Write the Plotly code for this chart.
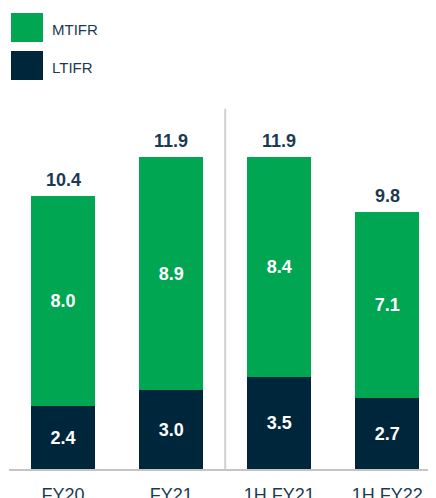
import plotly.graph_objects as go

categories = ["FY20", "FY21", "1H FY21", "1H FY22"]
ltifr = [2.4, 3.0, 3.5, 2.7]
mtifr = [8.0, 8.9, 8.4, 7.1]
totals = [10.4, 11.9, 11.9, 9.8]
series_names = ["MTIFR", "LTIFR"]

GREEN = "#00A651"
NAVY = "#00263C"
TEXT = "#1B3A52"
FONT = "Liberation Sans, Arial, sans-serif"

fig = go.Figure()
fig.add_trace(go.Bar(
    x=categories, y=ltifr, name=series_names[1], marker_color=NAVY,
    marker_line_width=0,
    text=[f"{v:.1f}" for v in ltifr], textposition="inside",
    insidetextanchor="middle",
    textfont=dict(family=FONT, size=18, color="white", weight="bold"),
))
fig.add_trace(go.Bar(
    x=categories, y=mtifr, name=series_names[0], marker_color=GREEN,
    marker_line_width=0,
    text=[f"{v:.1f}" for v in mtifr], textposition="inside",
    insidetextanchor="middle",
    textfont=dict(family=FONT, size=18, color="white", weight="bold"),
))

for c, t in zip(categories, totals):
    fig.add_annotation(x=c, y=t, text=f"<b>{t:.1f}</b>", showarrow=False,
                       yanchor="bottom", yshift=4,
                       font=dict(family=FONT, size=18, color=TEXT))

# separator between annual and half-year data
fig.add_shape(type="line", x0=1.5, x1=1.5, y0=0, y1=13.75, xref="x", yref="y",
              line=dict(color="#D0D0D0", width=2), layer="below")

# legend swatches
legend_items = [(series_names[0], GREEN, 1.2358, 1.1572, 1.1924),
                (series_names[1], NAVY, 1.1328, 1.0542, 1.0894)]
for name, col, y1, y0, yc in legend_items:
    fig.add_shape(type="rect", xref="paper", yref="paper",
                  x0=0.0047, x1=0.0796, y0=y0, y1=y1,
                  fillcolor=col, line_width=0)
    fig.add_annotation(xref="paper", yref="paper", x=0.096, y=yc, text=name,
                       showarrow=False, xanchor="left", yanchor="middle",
                       font=dict(family=FONT, size=15, color=TEXT))

fig.update_layout(
    barmode="stack", bargap=0.407,
    width=428, height=490,
    margin=dict(l=1, r=0, t=92, b=29, autoexpand=False),
    plot_bgcolor="white", paper_bgcolor="white",
    showlegend=False,
    xaxis=dict(range=[-0.5, 3.45], showline=True, linecolor="#C4C4C4",
               linewidth=2, ticks="", showgrid=False, ticklabelstandoff=8,
               automargin=False,
               tickfont=dict(family=FONT, size=18, color=TEXT)),
    yaxis=dict(range=[0, 14.08], visible=False, showgrid=False,
               automargin=False),
    uniformtext=dict(mode=False),
)

fig.write_html("out.html")
